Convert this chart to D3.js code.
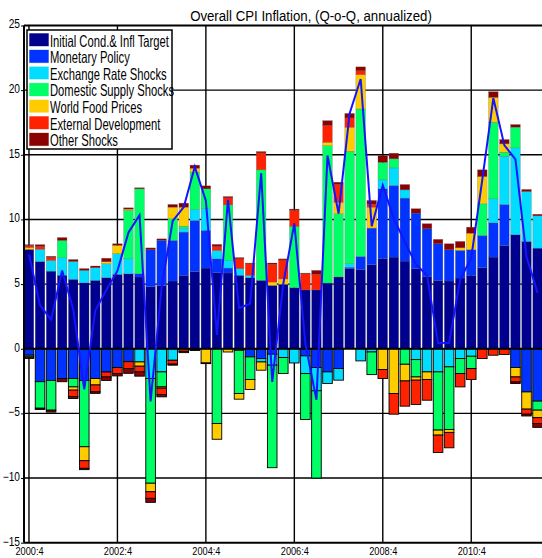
<!DOCTYPE html>
<html>
<head>
<meta charset="utf-8">
<script src="https://cdn.jsdelivr.net/npm/d3@7"></script>
<style>
  html, body { margin: 0; padding: 0; background: #fff; }
  svg { display: block; font-family: "Liberation Sans", Arial, sans-serif; }
</style>
</head>
<body>
<div id="chart"></div>
<script>
// quarters 2000:4 .. 2012:2
var quarters = [];
for (var k = 0; k < 47; k++) {
  var qq = 3 + k;
  quarters.push((2000 + Math.floor(qq / 4)) + ':' + (qq % 4 + 1));
}
var tickQuarters = ['2000:4', '2002:4', '2004:4', '2006:4', '2008:4', '2010:4'];
var yTicks = [-15, -10, -5, 0, 5, 10, 15, 20, 25];

// contributions to q-o-q annualized CPI inflation
var initCond = [7.68, 6.75, 6.0, 5.68, 5.37, 5.1, 5.29, 5.5, 5.75, 5.8, 5.55, 4.8, 4.9, 5.24, 5.68, 5.98,
  6.24, 5.88, 5.86, 5.68, 5.5, 5.29, 4.9, 4.98, 4.72, 4.55, 4.55, 5.08, 5.55, 6.19, 6.14, 6.5,
  6.96, 7.09, 6.78, 6.19, 5.6, 5.29, 5.24, 5.47, 5.68, 6.27, 7.09, 7.99, 8.82, 8.3, 7.78];
var monetary = [-0.5, -2.55, -2.45, -2.3, -2.3, -2.45, -2.3, -1.8, -1.45, -1.0, 0.25, 2.86, 3.48, 3.14, 3.34, 3.94,
  2.91, 1.08, 0.38, -0.12, -0.63, -0.76, -0.42, 0, 0, -0.55, -1.45, -1.79, -1.53, 0.11, 1.0, 2.83,
  5.41, 5.54, 4.87, 4.3, 3.68, 2.83, 2.42, 2.14, 1.98, 2.49, 2.65, 3.17, -1.45, -3.34, -4.05];
var exchRate = [0, 0.95, 0.83, 1.36, 1.38, 0.96, 0.98, 1.08, 1.6, 1.16, -1.02, -2.3, -1.79, -0.89, 0.26, 0.85,
  1.68, 0.64, 0.59, 0.51, 0.18, -0.26, -0.85, -0.68, -1.1, -1.37, -1.8, -0.9, -0.9, 0.28, -0.94, -0.25,
  0.69, 1.36, 0.64, -0.84, -1.79, -1.79, -1.4, -0.76, -0.58, 0, 1.86, 3.73, 6.72, 3.86, 2.5];
var domSupply = [-0.13, -2.05, -2.3, 1.34, -0.65, -5.13, 0, 0, 0, 3.74, 6.57, -8.1, -1.16, 1.67, 0.2, 2.88,
  1.54, -5.78, 4.3, -3.34, -1.75, 8.55, -7.93, -1.24, 4.74, -3.55, -6.75, 10.62, 4.89, 8.69, 11.41, -1.75,
  1.36, 0.7, -1.2, -1.34, 0, -4.5, -4.84, -1.16, -0.95, 2.45, 5.92, 0.31, 1.6, 0, -0.7];
var foodPrices = [0.15, 0, 0, 0, -0.25, -1.08, -0.5, 0.15, 0.65, 0.1, -0.33, -0.66, -0.1, 0.9, 1.47, 0.31,
  -1.1, -1.22, -0.25, -0.44, -0.77, -0.64, 0.26, 0.42, 0, 0, 0, 0.27, 0.89, 1.86, 2.65, 1.62,
  -1.61, -3.46, -1.29, -0.25, -0.59, -0.39, -0.23, 0.2, 1.28, 2.11, 1.92, 0.65, -0.73, -1.33, -0.58];
var external = [0.15, 0.2, 0.22, 0, -0.5, -0.59, -0.53, -0.38, -0.47, -0.53, -0.44, -0.51, -0.49, -0.3, -0.2, -0.08,
  0, 0.3, 0.54, 0.77, 0.9, 1.31, 1.37, 1.47, 1.24, 1.25, 1.2, 1.29, 1.37, 0.72, 0.3, 0.21,
  -0.69, -1.6, -1.95, -1.88, -1.6, -1.34, -1.19, -1.03, -0.85, -0.76, -0.5, -0.45, -0.39, -0.39, -0.45];
var otherUp = [0.07, 0.15, 0.1, 0.22, 0.15, 0.14, 0.13, 0.27, 0.12, 0.1, 0.08, 0.14, 0.12, 0.21, 0.31, 0.24,
  0.23, 0.17, 0.1, 0.09, 0.05, 0.1, 0.1, 0.08, 0.1, 0.05, 0.31, 0.38, 0.18, 0.35, 0.3, 0.31,
  0.52, 0.43, 0.41, 0.34, 0.39, 0.34, 0.46, 0.49, 0.46, 0.52, 0.44, 0.33, 0.2, 0.16, 0.12];
var otherDown = [-0.12, -0.1, -0.15, -0.25, -0.15, -0.1, -0.12, -0.27, -0.18, -0.37, -0.33, -0.31, -0.18, -0.08, -0.1, -0.05,
  -0.05, 0, 0, 0, 0, 0, 0, 0, 0, 0, 0, 0, 0, 0, 0, 0,
  0, 0, 0, 0, 0, 0, 0, 0, 0, 0, 0, 0, -0.12, -0.14, -0.3];

var seriesNames = ['Initial Cond.& Infl Target', 'Monetary Policy', 'Exchange Rate Shocks',
  'Domestic Supply Shocks', 'World Food Prices', 'External Development', 'Other Shocks'];
var seriesColors = ['#00008f', '#0033ff', '#00ddff', '#00ff66', '#ffcc00', '#ff2200', '#8b0000'];

var keys = ['init', 'mon', 'exch', 'dom', 'food', 'ext', 'otherUp', 'otherDown'];
var keyColor = {init: seriesColors[0], mon: seriesColors[1], exch: seriesColors[2], dom: seriesColors[3],
  food: seriesColors[4], ext: seriesColors[5], otherUp: seriesColors[6], otherDown: seriesColors[6]};

var rows = quarters.map(function(q, i) {
  return {i: i, q: q, init: initCond[i], mon: monetary[i], exch: exchRate[i], dom: domSupply[i],
    food: foodPrices[i], ext: external[i], otherUp: otherUp[i], otherDown: otherDown[i]};
});
var total = rows.map(function(r) {
  return keys.reduce(function(s, key) { return s + r[key]; }, 0);
});

var w = 542, h = 558;
var plotL = 24, plotR = 542, plotT = 25.5, plotB = 542.7;

var x = d3.scaleLinear().domain([-0.45, 46.4]).range([plotL, plotR]);
var y = d3.scaleLinear().domain([-15, 25]).range([plotB, plotT]);
var barW = 9.6;

var svg = d3.select('#chart').append('svg')
  .attr('width', w).attr('height', h);

svg.append('clipPath').attr('id', 'plot')
  .append('rect').attr('x', plotL).attr('y', plotT).attr('width', plotR - plotL).attr('height', plotB - plotT);

// squeeze text horizontally, the original uses a condensed face
function squeeze(sel, f) {
  sel.each(function() {
    var len = this.getComputedTextLength();
    d3.select(this).attr('textLength', len * f).attr('lengthAdjust', 'spacingAndGlyphs');
  });
}

// grid
var grid = svg.append('g').attr('clip-path', 'url(#plot)');
grid.selectAll('line.h')
  .data(yTicks.filter(function(d) { return d > -15 && d < 25 && d != 0; }))
  .enter().append('line')
  .attr('x1', plotL).attr('x2', plotR)
  .attr('y1', function(d) { return y(d); }).attr('y2', function(d) { return y(d); })
  .attr('stroke', '#000').attr('stroke-width', 1.4);
grid.selectAll('line.v')
  .data(tickQuarters)
  .enter().append('line')
  .attr('x1', function(d) { return x(quarters.indexOf(d)); })
  .attr('x2', function(d) { return x(quarters.indexOf(d)); })
  .attr('y1', plotT).attr('y2', plotB)
  .attr('stroke', '#000').attr('stroke-width', 1.4);

// stacked bars
var stack = d3.stack().keys(keys).offset(d3.stackOffsetDiverging);
var layers = stack(rows);

var barsG = svg.append('g').attr('clip-path', 'url(#plot)');
layers.forEach(function(layer) {
  barsG.selectAll(null)
    .data(layer.filter(function(d) { return d[1] - d[0] > 0; }))
    .enter().append('rect')
    .attr('x', function(d) { return x(d.data.i) - barW / 2; })
    .attr('y', function(d) { return y(d[1]); })
    .attr('width', barW)
    .attr('height', function(d) { return y(d[0]) - y(d[1]); })
    .attr('fill', keyColor[layer.key])
    .attr('stroke', function(d) { return d[1] <= 0 ? '#000' : 'rgba(90,90,90,0.5)'; })
    .attr('stroke-width', function(d) { return d[1] <= 0 ? 0.9 : 0.5; });
});

// zero line
svg.append('line')
  .attr('x1', plotL).attr('x2', plotR).attr('y1', y(0)).attr('y2', y(0))
  .attr('stroke', '#000').attr('stroke-width', 2);

// total inflation line
var line = d3.line()
  .x(function(d, i) { return x(i); })
  .y(function(d) { return y(d); });
svg.append('path')
  .attr('clip-path', 'url(#plot)')
  .datum(total)
  .attr('d', line)
  .attr('fill', 'none')
  .attr('stroke', '#1414ff')
  .attr('stroke-width', 2);

// frame
svg.append('line').attr('x1', plotL).attr('x2', plotR).attr('y1', plotT).attr('y2', plotT)
  .attr('stroke', '#000').attr('stroke-width', 2);
svg.append('line').attr('x1', plotL).attr('x2', plotR).attr('y1', plotB).attr('y2', plotB)
  .attr('stroke', '#000').attr('stroke-width', 2);
svg.append('line').attr('x1', plotL).attr('x2', plotL).attr('y1', plotT).attr('y2', plotB)
  .attr('stroke', '#000').attr('stroke-width', 2);

// axes
var yAxis = svg.append('g')
  .attr('transform', 'translate(' + plotL + ',0)')
  .call(d3.axisLeft(y).tickValues(yTicks).tickSize(3).tickPadding(1));
yAxis.select('.domain').remove();
yAxis.selectAll('text').attr('font-size', 12).attr('fill', '#000').attr('dy', '0.2em')
  .attr('font-family', '"Liberation Sans", Arial, sans-serif');
squeeze(yAxis.selectAll('text'), 0.85);

var xAxis = svg.append('g')
  .attr('transform', 'translate(0,' + plotB + ')')
  .call(d3.axisBottom(x)
    .tickValues(tickQuarters.map(function(d) { return quarters.indexOf(d); }))
    .tickFormat(function(i) { return quarters[i]; })
    .tickSize(0).tickPadding(4));
xAxis.select('.domain').remove();
xAxis.selectAll('text').attr('font-size', 11.5).attr('fill', '#000')
  .attr('font-family', '"Liberation Sans", Arial, sans-serif');
squeeze(xAxis.selectAll('text'), 0.8);

// title
var title = svg.append('text')
  .attr('x', 311).attr('y', 20.5)
  .attr('text-anchor', 'middle')
  .attr('font-size', 14.7)
  .text('Overall CPI Inflation, (Q-o-Q, annualized)');
squeeze(title, 0.9);

// legend
var legend = svg.append('g');
legend.append('rect')
  .attr('x', 27).attr('y', 30).attr('width', 145).attr('height', 119)
  .attr('fill', '#fff').attr('stroke', '#000').attr('stroke-width', 1.5);
var items = legend.selectAll('g.item')
  .data(seriesNames)
  .enter().append('g')
  .attr('transform', function(d, i) { return 'translate(0,' + (i * 16.6) + ')'; });
items.append('rect')
  .attr('x', 29).attr('y', 33).attr('width', 20).attr('height', 13.5)
  .attr('fill', function(d, i) { return seriesColors[i]; })
  .attr('stroke', '#fff').attr('stroke-width', 0.6);
var legTexts = items.append('text')
  .attr('x', 50).attr('y', 46.5)
  .attr('font-size', 16.5)
  .text(function(d) { return d; });
squeeze(legTexts, 0.68);
</script>
</body>
</html>
